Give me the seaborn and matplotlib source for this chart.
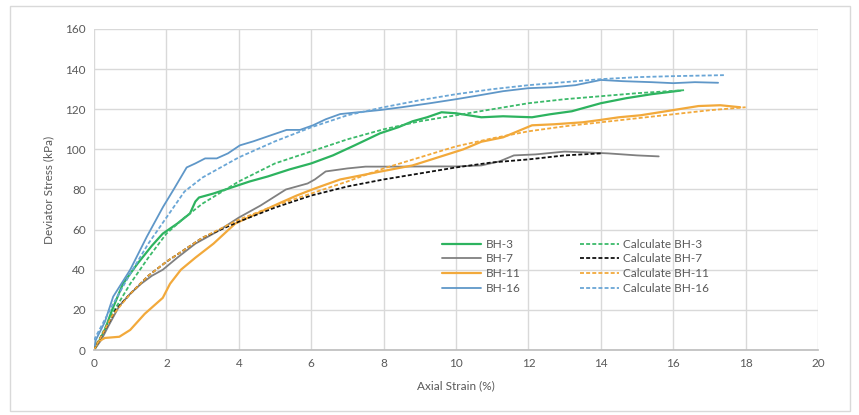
import matplotlib
matplotlib.use("Agg")
import matplotlib.pyplot as plt
import seaborn as sns
import pandas as pd
from matplotlib.patches import Rectangle

# ---- data ----
bh3_x = [0, 0.1, 0.3, 0.5, 0.8, 1.2, 1.6, 1.9, 2.3, 2.65, 2.8, 2.9, 3.3, 3.8, 4.3, 4.8, 5.4, 6.0, 6.6,
         7.2, 7.9, 8.4, 8.8, 9.2, 9.6, 10.0, 10.7, 11.3, 12.1, 12.6, 13.2, 14.0, 14.7, 15.4, 16.2]
bh3_y = [0, 3, 10, 20, 33, 43, 52, 58, 63, 68, 74, 76, 78, 81, 84, 86.5, 90, 93, 97,
         102, 108, 111, 114, 116, 118.5, 118, 116, 116.5, 116, 117.5, 119, 123, 125.5, 127.5, 129.3]

cbh3_x = [0, 0.5, 1, 1.5, 2, 2.5, 3, 4, 5, 6, 7, 8, 9, 10, 11, 12, 13, 14, 15, 16.3]
cbh3_y = [0, 18, 33, 46, 58, 66, 73, 84, 93, 99, 105, 110, 114, 117, 120, 123, 125, 126.5, 128, 129.5]

bh7_x = [0, 0.2, 0.4, 0.7, 1.0, 1.3, 1.6, 1.9, 2.3, 2.8, 3.4, 4.0, 4.6, 5.3, 5.9, 6.1, 6.4, 7.0, 7.5,
         8.4, 9.2, 10.0, 10.7, 11.2, 11.6, 12.2, 13.0, 13.6, 14.2, 15.0, 15.6]
bh7_y = [0, 5, 12, 22, 28, 33, 37, 40, 46, 53, 59, 66, 72, 80, 83, 85, 89, 90.5, 91.4,
         91.4, 91.5, 91.5, 92, 94, 97, 97.5, 98.9, 98.5, 98, 97, 96.5]

cbh7_x = [0, 0.3, 0.6, 1, 1.5, 2, 2.5, 3, 3.5, 4, 5, 6, 7, 8, 9, 10, 11, 12, 13, 14]
cbh7_y = [0, 10, 20, 28, 37, 44, 50, 56, 60, 64, 71, 77, 81.5, 85, 88, 91, 93.5, 95, 97, 98]

bh11_x = [0, 0.1, 0.3, 0.7, 1.0, 1.4, 1.9, 2.1, 2.4, 2.8, 3.3, 3.9, 4.5, 5.1, 5.6, 6.1, 6.8, 7.9,
          8.8, 9.5, 10.2, 10.7, 11.3, 12.1, 12.7, 13.5, 14.0, 14.5, 15.1, 15.8, 16.7, 17.3, 17.85]
bh11_y = [0, 4, 6, 6.6, 10, 18, 26, 33, 40, 46, 53, 63, 68, 73, 77, 80.5, 85, 88.9,
          92, 96, 100, 103.8, 106, 112, 112.5, 113.5, 114.7, 116, 117, 119, 121.6, 122, 121]

cbh11_x = [0, 0.5, 1, 1.5, 2, 2.5, 3, 4, 5, 6, 7, 8, 9, 10, 11, 12, 13, 14, 15, 16, 17, 18]
cbh11_y = [0, 17, 28, 37, 44, 50, 56, 65, 72, 78, 84, 90.5, 96, 101.5, 105.5, 109, 111.5, 113.5,
           115.5, 117.5, 119.5, 121]

bh16_x = [0, 0.05, 0.3, 0.53, 1.0, 1.46, 1.91, 2.2, 2.56, 2.8, 3.07, 3.39, 3.7, 4.03, 4.4, 4.77,
          5.32, 5.69, 6.05, 6.4, 6.8, 7.3, 7.9, 8.5, 9.28, 10.0, 10.66, 11.3, 12.0, 12.7, 13.3,
          14.0, 14.6, 15.4, 16.0, 16.6, 17.24]
bh16_y = [0, 5, 14, 26.6, 40, 56.5, 71.4, 80, 91, 93, 95.5, 95.5, 98, 102, 104, 106.3,
          109.7, 109.7, 112, 115, 117.6, 118.5, 119.6, 121, 123, 125, 127, 129, 130.5, 131, 132,
          134.6, 134, 133.5, 133, 133.5, 133.2]

cbh16_x = [0, 0.5, 1.0, 1.5, 2.0, 2.5, 3.0, 3.5, 4.0, 4.5, 5.0, 6.0, 7.0, 8.0, 9.0, 10.0, 11.0,
           12.0, 13.0, 14.0, 15.0, 16.0, 17.4]
cbh16_y = [5, 22, 38, 53, 66, 79, 86, 91, 96, 100, 104, 111, 117, 121, 124.5, 127.5, 130,
           132, 133.5, 135, 136, 136.5, 137]

x_ticks = [0, 2, 4, 6, 8, 10, 12, 14, 16, 18, 20]
y_ticks = [0, 20, 40, 60, 80, 100, 120, 140, 160]

series = [
    ("BH-3", bh3_x, bh3_y, "#2db35f", "-", 1.6),
    ("BH-7", bh7_x, bh7_y, "#808080", "-", 1.3),
    ("BH-11", bh11_x, bh11_y, "#f2a93b", "-", 1.6),
    ("BH-16", bh16_x, bh16_y, "#5f97c8", "-", 1.3),
    ("Calculate BH-3", cbh3_x, cbh3_y, "#3cba6a", (0, (2.2, 1.2)), 1.3),
    ("Calculate BH-7", cbh7_x, cbh7_y, "#111111", (0, (2.2, 1.2)), 1.3),
    ("Calculate BH-11", cbh11_x, cbh11_y, "#f2a93b", (0, (2.2, 1.2)), 1.3),
    ("Calculate BH-16", cbh16_x, cbh16_y, "#6aa6d6", (0, (2.2, 1.2)), 1.3),
]

sns.set_theme(style="white")
plt.rcParams['font.family'] = ['Lato', 'DejaVu Sans']

fig = plt.figure(figsize=(8.59, 4.15), dpi=100)
ax = fig.add_axes([94 / 859, 1 - 350 / 415, 724 / 859, 321 / 415])

for name, xs, ys, col, ls, lw in series:
    df = pd.DataFrame({"x": xs, "y": ys})
    sns.lineplot(data=df, x="x", y="y", ax=ax, color=col, linestyle=ls, linewidth=lw,
                 label=name, sort=False, estimator=None)

ax.set_xlim(0, 20)
ax.set_ylim(0, 160)
ax.set_xticks(x_ticks)
ax.set_yticks(y_ticks)
ax.grid(True, color="#d9d9d9", linewidth=1.0)
ax.set_axisbelow(True)
for s in ["top", "right", "left"]:
    ax.spines[s].set_visible(False)
ax.spines["bottom"].set_color("#bfbfbf")
ax.tick_params(axis="both", colors="#595959", labelsize=8.5, length=0, pad=6)
ax.set_xlabel("Axial Strain (%)", color="#595959", fontsize=8.5, labelpad=8)
ax.set_ylabel("Deviator Stress (kPa)", color="#595959", fontsize=8.5, labelpad=8)

leg = ax.legend(loc="upper left", bbox_to_anchor=(0.466, 0.38), ncol=2, frameon=False,
                fontsize=8.5, handlelength=3.3, columnspacing=5.0, labelspacing=0.32,
                handletextpad=0.4)
for t in leg.get_texts():
    t.set_color("#595959")

fig.patches.append(Rectangle((10 / 859, 4 / 415), 840 / 859, 405 / 415, transform=fig.transFigure,
                             fill=False, edgecolor="#d9d9d9", linewidth=1.0))

fig.savefig("out.png", dpi=100)
